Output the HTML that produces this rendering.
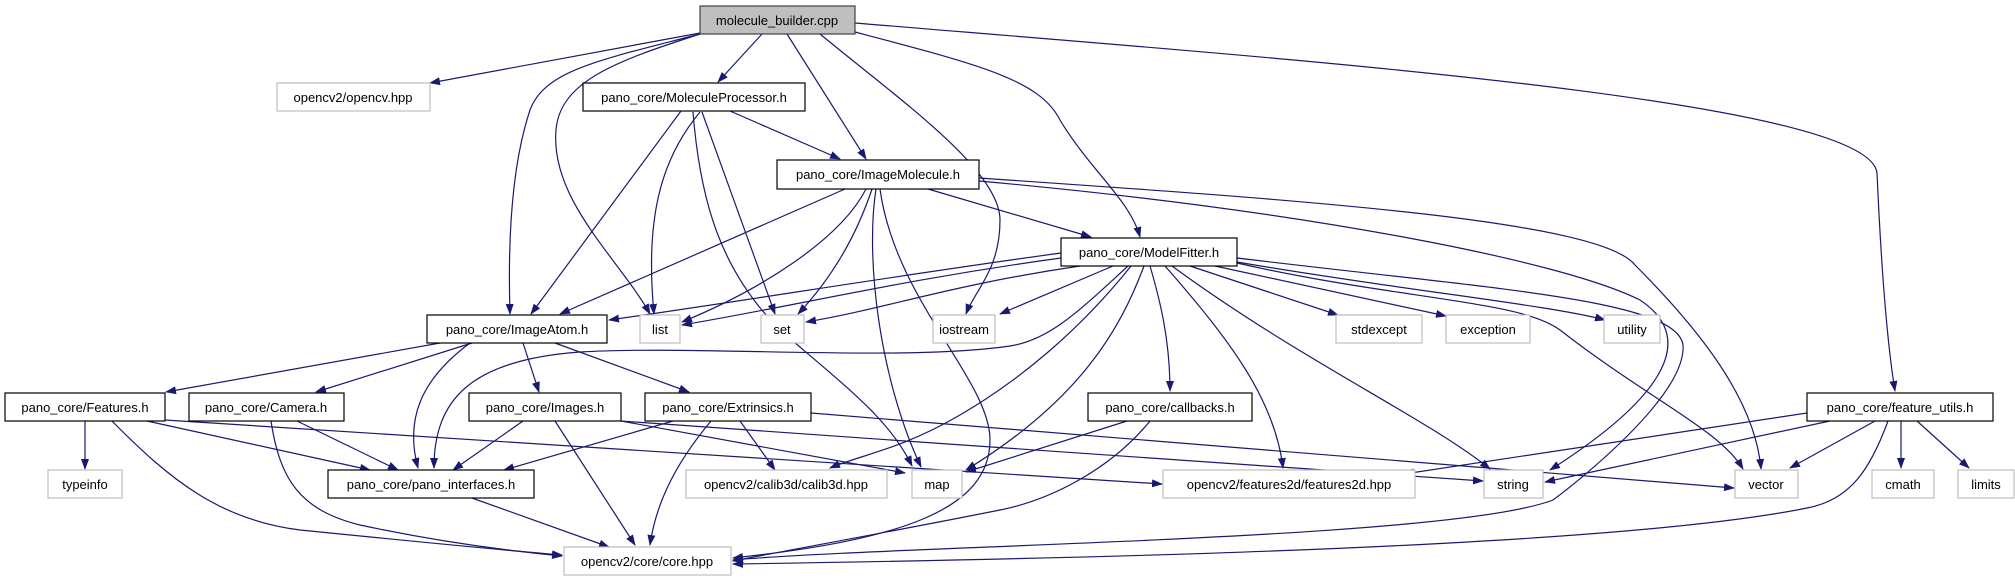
<!DOCTYPE html>
<html><head><meta charset="utf-8"><style>
html,body{margin:0;padding:0;background:#fff;}
svg{display:block;}
text{font-family:"Liberation Sans",sans-serif;font-size:13px;fill:#000;}
</style></head><body>
<svg width="2015" height="581" viewBox="0 0 2015 581" xmlns="http://www.w3.org/2000/svg">
<defs><marker id="a" markerUnits="userSpaceOnUse" markerWidth="11" markerHeight="8" refX="10" refY="4" orient="auto"><path d="M0,0 L11,4 L0,8 z" fill="#191970"/></marker></defs>
<g fill="none" stroke="#191970" stroke-width="1.2" marker-end="url(#a)">
<path d="M700,33 L430,83"/>
<path d="M762,34 L718,82"/>
<path d="M787,34 L866,159"/>
<path d="M855,32 C980,65 1040,80 1060,120 C1090,170 1130,200 1140,237"/>
<path d="M820,34 C900,100 1000,170 1000,220 C1000,270 975,290 966,314"/>
<path d="M855,23 C1300,60 1870,100 1877,173 C1880,240 1885,330 1895,391"/>
<path d="M700,34 C600,60 545,70 530,110 C510,170 508,250 510,314"/>
<path d="M700,34 C620,60 560,80 556,130 C550,200 620,260 650,314"/>
<path d="M681,111 L531,314"/>
<path d="M700,112 C660,160 645,220 654,314"/>
<path d="M702,112 L775,314"/>
<path d="M693,112 C700,200 720,270 780,330 C850,390 890,420 912,466"/>
<path d="M730,111 L840,159"/>
<path d="M845,189 L560,314"/>
<path d="M866,189 C840,240 760,290 682,322"/>
<path d="M872,189 C855,240 830,280 798,314"/>
<path d="M876,189 C865,260 880,380 921,467"/>
<path d="M880,189 C895,300 990,380 990,440 C990,510 900,540 733,558"/>
<path d="M928,189 L1091,237"/>
<path d="M979,178 C1300,200 1600,220 1635,265 C1700,330 1755,400 1761,469"/>
<path d="M979,181 C1300,210 1560,260 1640,300 C1700,340 1660,400 1550,470"/>
<path d="M1061,253 C900,275 750,300 609,320"/>
<path d="M1061,258 C900,280 800,305 682,325"/>
<path d="M1080,266 C950,285 880,310 806,322"/>
<path d="M1113,266 L1000,314"/>
<path d="M1128,266 C1080,310 1050,340 1010,346 C900,362 700,345 580,352 C470,360 434,400 434,468"/>
<path d="M1131,266 C1080,330 1020,380 960,415 C900,450 860,455 830,468"/>
<path d="M1144,266 C1120,330 1080,400 966,470"/>
<path d="M1150,266 C1160,300 1170,340 1170,391"/>
<path d="M1165,266 C1230,340 1275,400 1283,468"/>
<path d="M1172,266 C1300,360 1430,420 1490,469"/>
<path d="M1190,266 L1338,315"/>
<path d="M1215,266 L1446,316"/>
<path d="M1237,262 C1400,290 1550,305 1605,320"/>
<path d="M1237,263 C1400,300 1520,300 1560,330 C1650,400 1720,430 1743,469"/>
<path d="M1237,258 C1500,290 1690,300 1683,350 C1680,400 1580,480 1553,500 C1450,540 900,545 733,560"/>
<path d="M1127,421 L966,472"/>
<path d="M1150,421 C1110,470 1050,500 1000,510 C900,530 800,548 733,561"/>
<path d="M1807,413 L1404,474"/>
<path d="M1830,421 L1545,482"/>
<path d="M1875,421 L1790,468"/>
<path d="M1901,421 L1901,468"/>
<path d="M1917,421 L1969,468"/>
<path d="M1888,421 C1870,470 1850,500 1807,508 C1600,550 1000,560 733,564"/>
<path d="M440,343 L166,392"/>
<path d="M472,343 L316,392"/>
<path d="M523,343 L539,392"/>
<path d="M555,343 L689,392"/>
<path d="M470,343 C420,380 405,420 418,468"/>
<path d="M85,421 L85,469"/>
<path d="M147,421 L370,470"/>
<path d="M112,421 C170,480 220,520 300,530 C400,540 500,550 562,555"/>
<path d="M165,420 L1162,484"/>
<path d="M271,421 C280,480 300,510 360,525 C430,540 500,550 562,556"/>
<path d="M297,421 L398,470"/>
<path d="M523,421 L453,470"/>
<path d="M555,421 L635,545"/>
<path d="M621,421 L905,473"/>
<path d="M621,421 C900,440 1300,470 1483,481"/>
<path d="M811,413 L1734,488"/>
<path d="M673,421 L504,470"/>
<path d="M711,421 C670,470 655,510 650,545"/>
<path d="M740,421 L775,470"/>
<path d="M472,498 L609,547"/>
</g>
<g stroke-width="1.2">
<rect x="700" y="6" width="155" height="28" fill="#bfbfbf" stroke="#404040"/>
<g fill="#fff" stroke="#000">
<rect x="583" y="83" width="222" height="28"/>
<rect x="777" y="160" width="202" height="29"/>
<rect x="1061" y="238" width="176" height="28"/>
<rect x="427" y="315" width="180" height="28"/>
<rect x="5" y="393" width="160" height="28"/>
<rect x="189" y="393" width="155" height="28"/>
<rect x="469" y="393" width="152" height="28"/>
<rect x="645" y="393" width="166" height="28"/>
<rect x="1088" y="393" width="164" height="28"/>
<rect x="1807" y="393" width="186" height="28"/>
<rect x="328" y="470" width="206" height="28"/>
</g>
<g fill="#fff" stroke="#bfbfbf">
<rect x="277" y="83" width="153" height="28"/>
<rect x="640" y="315" width="40" height="28"/>
<rect x="761" y="315" width="43" height="28"/>
<rect x="933" y="315" width="62" height="28"/>
<rect x="1336" y="315" width="86" height="28"/>
<rect x="1446" y="315" width="84" height="28"/>
<rect x="1604" y="315" width="56" height="28"/>
<rect x="48" y="470" width="74" height="28"/>
<rect x="686" y="470" width="201" height="28"/>
<rect x="912" y="470" width="50" height="28"/>
<rect x="1163" y="470" width="252" height="28"/>
<rect x="1484" y="470" width="59" height="28"/>
<rect x="1735" y="470" width="63" height="28"/>
<rect x="1872" y="470" width="62" height="28"/>
<rect x="1958" y="470" width="56" height="28"/>
<rect x="564" y="547" width="167" height="28"/>
</g>
</g>
<g text-anchor="middle">
<text x="777" y="25">molecule_builder.cpp</text>
<text x="694" y="102">pano_core/MoleculeProcessor.h</text>
<text x="878" y="179">pano_core/ImageMolecule.h</text>
<text x="1149" y="257">pano_core/ModelFitter.h</text>
<text x="517" y="334">pano_core/ImageAtom.h</text>
<text x="85" y="412">pano_core/Features.h</text>
<text x="266" y="412">pano_core/Camera.h</text>
<text x="545" y="412">pano_core/Images.h</text>
<text x="728" y="412">pano_core/Extrinsics.h</text>
<text x="1170" y="412">pano_core/callbacks.h</text>
<text x="1900" y="412">pano_core/feature_utils.h</text>
<text x="431" y="489">pano_core/pano_interfaces.h</text>
<text x="353" y="102">opencv2/opencv.hpp</text>
<text x="660" y="334">list</text>
<text x="782" y="334">set</text>
<text x="964" y="334">iostream</text>
<text x="1379" y="334">stdexcept</text>
<text x="1488" y="334">exception</text>
<text x="1632" y="334">utility</text>
<text x="85" y="489">typeinfo</text>
<text x="786" y="489">opencv2/calib3d/calib3d.hpp</text>
<text x="937" y="489">map</text>
<text x="1289" y="489">opencv2/features2d/features2d.hpp</text>
<text x="1513" y="489">string</text>
<text x="1766" y="489">vector</text>
<text x="1903" y="489">cmath</text>
<text x="1986" y="489">limits</text>
<text x="647" y="566">opencv2/core/core.hpp</text>
</g>
</svg>
</body></html>
